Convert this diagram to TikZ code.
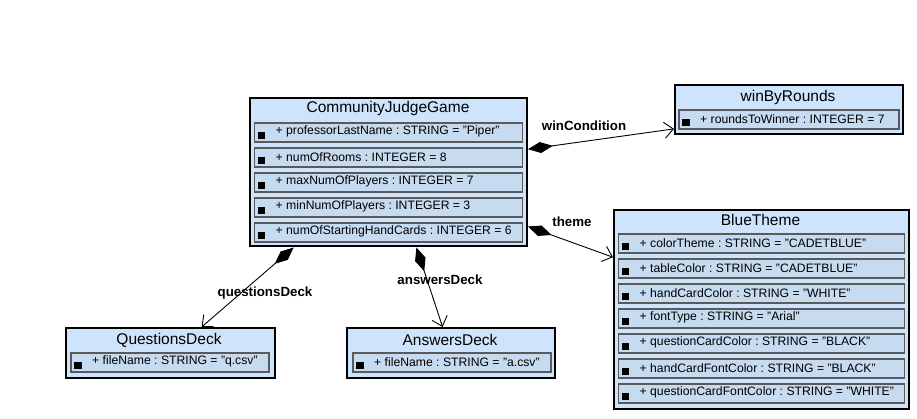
\documentclass[tikz,border=0pt]{standalone}
\usepackage{fontspec}
\setmainfont{Liberation Sans}
\usetikzlibrary{arrows.meta,calc}
\frenchspacing
\definecolor{boxfill}{RGB}{205,228,252}
\definecolor{rowfill}{RGB}{198,218,240}
\definecolor{rowline}{RGB}{90,90,90}
\tikzset{
  outerbox/.style={draw=black, line width=2pt, fill=boxfill, rectangle, inner sep=0pt, anchor=north west},
  rowbox/.style={draw=rowline, line width=1.6pt, fill=rowfill, rectangle, inner sep=0pt, anchor=north west},
  titletext/.style={font=\fontsize{15.5}{17}\selectfont, inner sep=0pt},
  attr/.style={font=\fontsize{12.2}{13}\selectfont\frenchspacing, inner sep=0pt, anchor=west},
  bulletsq/.style={fill=black, minimum size=7.5pt, inner sep=0pt},
  lbl/.style={font=\fontsize{13.3}{15}\selectfont\bfseries, inner sep=0pt},
  comp/.style={line width=0.9pt, {Diamond[length=25pt,width=11pt]}-{Straight Barb[length=9pt,width=16pt,line width=0.9pt]}}
}
\newcommand{\attrrow}[5]{% name, x, y, width, text
  \node[rowbox, minimum width=#4, minimum height=19] (#1) at (#2,#3) {};
  \node[bulletsq] (#1b) at ([xshift=8pt,yshift=-3pt]#1.west) {};
  \node[attr] (#1t) at ([xshift=22pt,yshift=0.5pt]#1.west) {#5};
}
\begin{document}
\begin{tikzpicture}[x=1pt,y=-1pt]
\useasboundingbox (0,0) rectangle (917,419);

% CommunityJudgeGame
\node[outerbox, minimum width=277, minimum height=148] (cjg) at (249,97.5) {};
\node[titletext] (cjgt) at (388,108) {CommunityJudgeGame};
\attrrow{cjga}{253.5}{122}{268}{+ professorLastName : STRING = "Piper"}
\attrrow{cjgb}{253.5}{147}{268}{+ numOfRooms : INTEGER = 8}
\attrrow{cjgc}{253.5}{172}{268}{+ maxNumOfPlayers : INTEGER = 7}
\attrrow{cjgd}{253.5}{197}{268}{+ minNumOfPlayers : INTEGER = 3}
\attrrow{cjge}{253.5}{222}{268}{+ numOfStartingHandCards : INTEGER = 6}

% winByRounds
\node[outerbox, minimum width=228, minimum height=49] (wbr) at (674,84) {};
\node[titletext] (wbrt) at (788,97) {winByRounds};
\attrrow{wbra}{678}{109}{220}{+ roundsToWinner : INTEGER = 7}

% BlueTheme
\node[outerbox, minimum width=295, minimum height=199] (bt) at (613,209) {};
\node[titletext] (btt) at (760.5,220) {BlueTheme};
\attrrow{bta}{617.5}{233}{286}{+ colorTheme : STRING = "CADETBLUE"}
\attrrow{btb}{617.5}{258}{286}{+ tableColor : STRING = "CADETBLUE"}
\attrrow{btc}{617.5}{283}{286}{+ handCardColor : STRING = "WHITE"}
\attrrow{btd}{617.5}{308}{286}{+ fontType : STRING = "Arial"}
\attrrow{bte}{617.5}{333}{286}{+ questionCardColor : STRING = "BLACK"}
\attrrow{btf}{617.5}{358}{286}{+ handCardFontColor : STRING = "BLACK"}
\attrrow{btg}{617.5}{383}{286}{+ questionCardFontColor : STRING = "WHITE"}

% QuestionsDeck
\node[outerbox, minimum width=209, minimum height=50] (qd) at (64.5,327) {};
\node[titletext] (qdt) at (169,340) {QuestionsDeck};
\attrrow{qda}{70}{352}{198}{+ fileName : STRING = "q.csv"}

% AnswersDeck
\node[outerbox, minimum width=208, minimum height=50] (ad) at (346,327) {};
\node[titletext] (adt) at (450,340) {AnswersDeck};
\attrrow{ada}{352}{352}{198}{+ fileName : STRING = "a.csv"}

% connectors
\draw[comp] ($(cjg.north east)!0.345!(cjg.south east)$) -- ($(wbr.north west)!0.88!(wbr.south west)$);
\draw[comp] ($(cjg.north east)!0.86!(cjg.south east)$) -- ($(bt.north west)!0.24!(bt.south west)$);
\draw[comp] ($(cjg.south west)!0.16!(cjg.south east)$) -- ($(qd.north west)!0.65!(qd.north east)$);
\draw[comp] ($(cjg.south west)!0.6!(cjg.south east)$) -- ($(ad.north west)!0.46!(ad.north east)$);

% labels
\node[lbl] (l1) at (584,126) {winCondition};
\node[lbl] (l2) at (572,222) {theme};
\node[lbl] (l3) at (265,293) {questionsDeck};
\node[lbl] (l4) at (440,280) {answersDeck};
\end{tikzpicture}
\end{document}
